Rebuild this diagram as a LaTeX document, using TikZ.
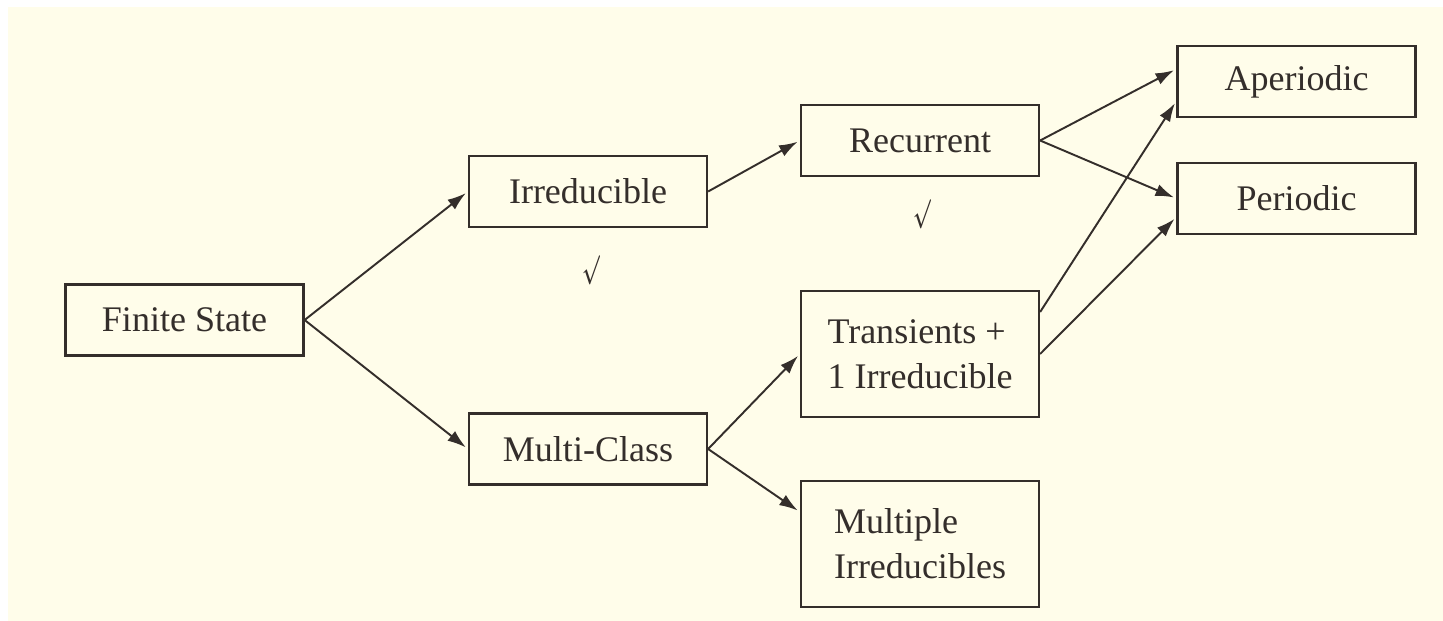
\documentclass[tikz,border=0pt]{standalone}
\usepackage{fontspec}
\setmainfont{Liberation Serif}
\usetikzlibrary{arrows.meta}
\definecolor{cream}{RGB}{255,253,234}
\definecolor{ink}{RGB}{52,46,43}
\begin{document}
\begin{tikzpicture}[x=0.02cm, y=-0.02cm,
        box/.style={draw=ink, line width=1.3pt, text=ink,
            minimum width=4.76cm, minimum height=1.42cm,
            align=left, inner sep=0pt,
            font=\fontsize{20.5}{25.5}\selectfont},
        tallbox/.style={box, minimum height=2.52cm},
        link/.style={draw=ink, line width=1.1pt,
            -{Latex[length=10.5pt,width=7pt]}, shorten >=1.5pt},
        tick/.style={text=ink, inner sep=0pt,
            font=\fontsize{20}{24}\selectfont\boldmath}]

    \useasboundingbox (0,0) rectangle (1443,621);
    \fill[cream] (8,7) rectangle (1443,621);

    % first column
    \node[box] (fin) at (184.5,320) {Finite State};

    % classes
    \node[box] (irr) at (588,191.5) {Irreducible};
    \node[box] (multi) at (588,449) {Multi-Class};

    % structure
    \node[box] (rec) at (920,140.5) {Recurrent};
    \node[tallbox] (trans) at (920,354) {Transients +\\1 Irreducible};
    \node[tallbox] (mult) at (920,544) {Multiple\\Irreducibles};

    % period
    \node[box] (aper) at (1296.5,81.5) {Aperiodic};
    \node[box] (per) at (1296.5,198.5) {Periodic};

    % ticks
    \node[tick] (tick1) at (591,270) {\scalebox{0.5}[0.8]{$\surd$}};
    \node[tick] (tick2) at (922,214) {\scalebox{0.5}[0.8]{$\surd$}};

    \draw[link] (fin.east) -- (irr.west);
    \draw[link] (fin.east) -- (multi.west);

    \draw[link] (irr.east) -- (rec.west);
    \draw[link] (multi.east) -- (trans.west);
    \draw[link] (multi.east) -- ([yshift=0.64cm]mult.west);

    \draw[link] (rec.east) -- ([yshift=0.25cm]aper.west);
    \draw[link] (rec.east) -- (per.west);

    \draw[link] ([yshift=0.84cm]trans.east) -- ([yshift=-0.39cm]aper.west);
    \draw[link] (trans.east) -- ([yshift=-0.37cm]per.west);

\end{tikzpicture}
\end{document}
